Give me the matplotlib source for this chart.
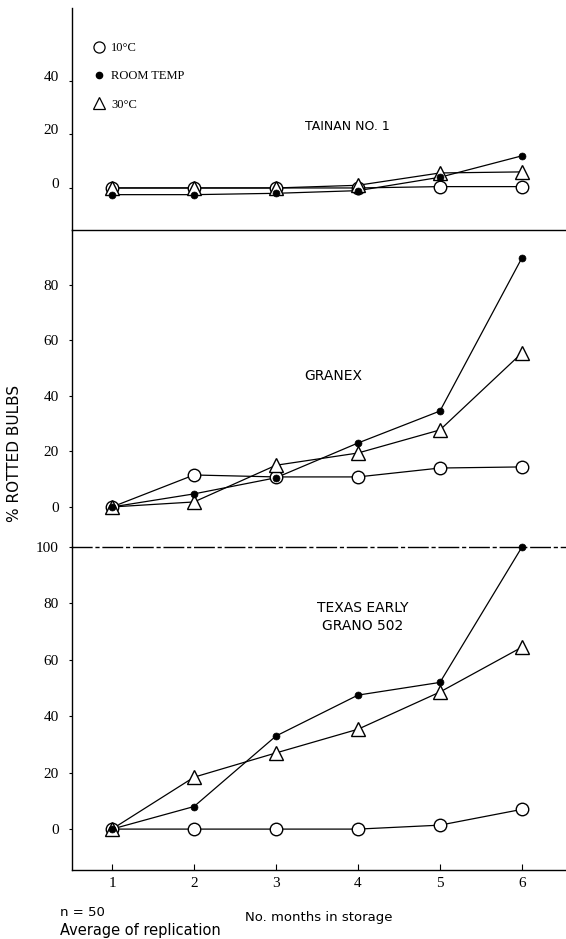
import matplotlib
matplotlib.use("Agg")
import matplotlib.pyplot as plt
import matplotlib.transforms as mtransforms
from matplotlib.lines import Line2D

# ---- data: % rotted bulbs by months in storage ----
months = [1, 2, 3, 4, 5, 6]

tainan_10c = [0, 0, 0, 0, 0.5, 0.5]
tainan_room = [-2.5, -2.5, -2, -1, 4, 12]
tainan_30c = [0, 0, 0, 1, 5.6, 6]

granex_10c = [0, 11.5, 10.8, 10.8, 14, 14.4]
granex_room = [0, 4.7, 10.5, 23, 34.5, 89.6]
granex_30c = [0, 1.8, 15, 19.4, 27.7, 55.4]

texas_10c = [0, 0, 0, 0, 1.4, 7]
texas_room = [0, 8, 33, 47.5, 52, 100]
texas_30c = [0, 18.4, 27, 35.4, 48.6, 64.5]

cultivars = ["TAINAN NO. 1", "GRANEX", "TEXAS EARLY\nGRANO 502"]
legend_labels = ["10°C", "ROOM TEMP", "30°C"]
ticks_top = [0, 20, 40]
ticks_mid = [0, 20, 40, 60, 80]
ticks_low = [0, 20, 40, 60, 80, 100]

# ---- layout helpers (pixel positions on a 566 x 939 canvas) ----
W, H = 566, 939
fig = plt.figure(figsize=(W / 100, H / 100), dpi=100)


def fx(x):
    return x / W


def fy(y):
    return 1 - y / H


L = fx(72)
ax1 = fig.add_axes([L, fy(230), 1 - L, (230 - 8) / H])
ax2 = fig.add_axes([L, fy(547), 1 - L, (547 - 230) / H])
ax3 = fig.add_axes([L, fy(870), 1 - L, (870 - 547) / H])

serif = "Liberation Serif"
sans = "DejaVu Sans"


def draw_panel(ax, c10, room, c30):
    for vals in (c10, room, c30):
        ax.plot(months, vals, color="black", lw=0.9, zorder=2, clip_on=False)
    ax.plot(months, c10, ls="none", marker="o", ms=9, mfc="white",
            mec="black", mew=1.0, zorder=3, clip_on=False)
    ax.plot(months, c30, ls="none", marker="^", ms=10, mfc="white",
            mec="black", mew=1.0, zorder=4, clip_on=False)
    ax.plot(months, room, ls="none", marker="o", ms=5, mfc="black",
            mec="black", mew=0.5, zorder=5, clip_on=False)


draw_panel(ax1, tainan_10c, tainan_room, tainan_30c)
draw_panel(ax2, granex_10c, granex_room, granex_30c)
draw_panel(ax3, texas_10c, texas_room, texas_30c)

for ax in (ax1, ax2, ax3):
    ax.set_xlim(0.512, 6.537)
    ax.set_facecolor("none")
    ax.spines["right"].set_visible(False)
    for s in ax.spines.values():
        s.set_linewidth(1.0)
    ax.tick_params(axis="y", direction="out", length=2.5, width=0.8, pad=7,
                   labelsize=11)

ax1.set_ylim(-15.7, 67.2)
ax2.set_ylim(-14.4, 99.6)
ax3.set_ylim(-14.5, 100)

ax1.set_yticks(ticks_top, [str(t) for t in ticks_top], family=serif, size=11)
ax2.set_yticks(ticks_mid, [str(t) for t in ticks_mid], family=serif, size=11)
ax3.set_yticks(ticks_low, [str(t) for t in ticks_low], family=serif, size=11)

# the top panel's scale labels sit a little above their ticks
shift = mtransforms.ScaledTranslation(0, 0.05, fig.dpi_scale_trans)
for lab in ax1.get_yticklabels():
    lab.set_transform(lab.get_transform() + shift)

ax1.spines["top"].set_visible(False)
ax1.spines["bottom"].set_visible(False)
ax2.spines["bottom"].set_visible(False)
ax3.spines["top"].set_linestyle((0, (14, 3, 2, 3)))

for ax in (ax1, ax2):
    ax.tick_params(axis="x", bottom=False, labelbottom=False)

ax3.set_xticks(months, [str(m) for m in months], family=serif, size=11)
ax3.tick_params(axis="x", direction="in", length=4, width=0.8, pad=5)
ax3.set_xlabel("No. months in storage", family=sans, size=9.5, labelpad=15)

# cultivar names
fig.text(fx(347), fy(127), cultivars[0], ha="center", va="center",
         family=sans, size=9)
fig.text(fx(333), fy(376), cultivars[1], ha="center", va="center",
         family=sans, size=10)
fig.text(fx(363), fy(617), cultivars[2], ha="center", va="center",
         family=sans, size=10, linespacing=1.3)

# legend
handles = [
    Line2D([], [], ls="none", marker="o", ms=8, mfc="white", mec="black", mew=0.9),
    Line2D([], [], ls="none", marker="o", ms=4.5, mfc="black", mec="black"),
    Line2D([], [], ls="none", marker="^", ms=9, mfc="white", mec="black", mew=0.9),
]
fig.legend(handles, legend_labels, loc="upper left",
           bbox_to_anchor=(fx(93), fy(42)), frameon=False,
           handlelength=1.0, handletextpad=0.45, labelspacing=1.3,
           borderpad=0, borderaxespad=0,
           prop={"family": serif, "size": 9})

# axis title and footnote
fig.text(fx(15), fy(453), "% ROTTED BULBS", rotation=90, ha="center",
         va="center", family=sans, size=11)
fig.text(fx(60), fy(912), "n = 50", ha="left", va="center",
         family=sans, size=9.5)
fig.text(fx(60), fy(930), "Average of replication", ha="left", va="center",
         family=sans, size=10.5)

fig.savefig("out.png", dpi=100)
